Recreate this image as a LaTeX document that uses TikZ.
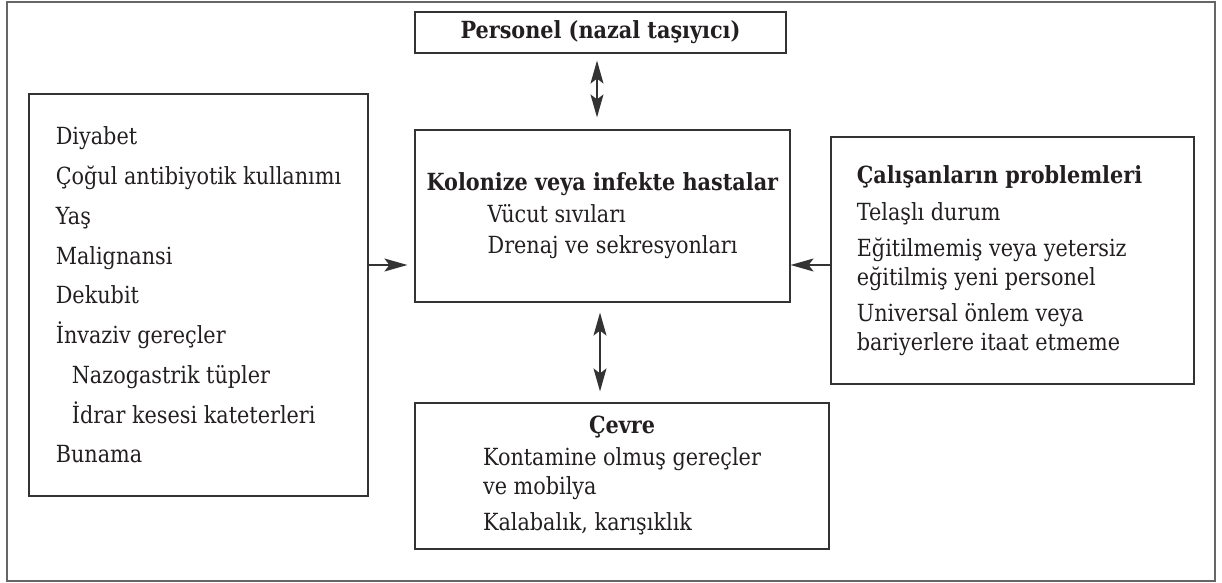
\documentclass[tikz,border=0pt]{standalone}
\usepackage{fontspec}
\setmainfont{DejaVu Serif}[FakeStretch=0.88]
\usepackage{xcolor}
\usetikzlibrary{arrows.meta, positioning}
\definecolor{framegray}{HTML}{666666}
\definecolor{linegray}{HTML}{333333}
\definecolor{textblack}{HTML}{231f20}

\begin{document}
\begin{tikzpicture}[x=0.5pt, y=-0.5pt,
    >={Stealth[length=11.5pt, width=6.5pt, inset=2.5pt]},
    box/.style={draw=linegray, line width=0.6pt, inner sep=0pt},
    txt/.style={text=textblack, inner sep=0pt, align=left},
    link/.style={linegray, line width=0.6pt}]

    \useasboundingbox (0,0) rectangle (1222,583);
    \draw[framegray, line width=0.9pt] (7,2) rectangle (1215,581);

    % kutular
    \node[box, txt, minimum width=185.5pt, minimum height=20.5pt,
        font=\fontsize{11.8}{14.5}\selectfont\bfseries] (pers) at (600.5,32.5) {Personel (nazal taşıyıcı)};
    \node[box, minimum width=187.5pt, minimum height=86pt] (kol) at (602.5,216) {};
    \node[box, minimum width=169.5pt, minimum height=201pt] (risk) at (198.5,295) {};
    \node[box, minimum width=181.5pt, minimum height=123.5pt] (calis) at (1012.5,260.5) {};
    \node[box, minimum width=207pt, minimum height=73pt] (cevre) at (622,476) {};

    % metinler
    \node[txt, font=\fontsize{11.8}{19.9}\selectfont, anchor=west] (risktxt) at ([xshift=13.5pt]risk.west) {%
        Diyabet\\
        Çoğul antibiyotik kullanımı\\
        Yaş\\
        Malignansi\\
        Dekubit\\
        İnvaziv gereçler\\
        \hspace*{8pt}Nazogastrik tüpler\\
        \hspace*{8pt}İdrar kesesi kateterleri\\
        Bunama};
    \node[txt, font=\fontsize{11.8}{15.75}\selectfont] (koltxt) at (kol.center) {%
        \textbf{Kolonize veya infekte hastalar}\\
        \hspace*{30.5pt}Vücut sıvıları\\
        \hspace*{30.5pt}Drenaj ve sekresyonları};
    \node[txt, font=\fontsize{11.8}{14.5}\selectfont, anchor=west] (calistxt) at ([xshift=13pt]calis.west) {%
        \textbf{Çalışanların problemleri}\\[4pt]
        Telaşlı durum\\[3.5pt]
        Eğitilmemiş veya yetersiz\\
        eğitilmiş yeni personel\\[3.5pt]
        Universal önlem veya\\
        bariyerlere itaat etmeme};
    \node[txt, font=\fontsize{11.8}{14.5}\selectfont] (cevretxt) at (cevre.center) {%
        \begin{tabular}{@{}l@{}}
            \multicolumn{1}{@{}c@{}}{\textbf{Çevre}}\\[1.5pt]
            Kontamine olmuş gereçler\\
            ve mobilya\\[3.5pt]
            Kalabalık, karışıklık
        \end{tabular}};

    % oklar
    \draw[link, <->, shorten <=3.5pt, shorten >=6pt] ([xshift=-1.75pt]pers.south) -- ([xshift=-1.75pt]pers.south |- kol.north);
    \draw[link, <->, shorten <=5pt, shorten >=5.5pt] ([xshift=-1.25pt]kol.south) -- ([xshift=-1.25pt]kol.south |- cevre.north);
    \draw[link, ->, shorten >=3.5pt] (risk.east |- 0,265) -- (kol.west |- 0,265);
    \draw[link, ->] (calis.west |- 0,265) -- (kol.east |- 0,265);
\end{tikzpicture}
\end{document}
